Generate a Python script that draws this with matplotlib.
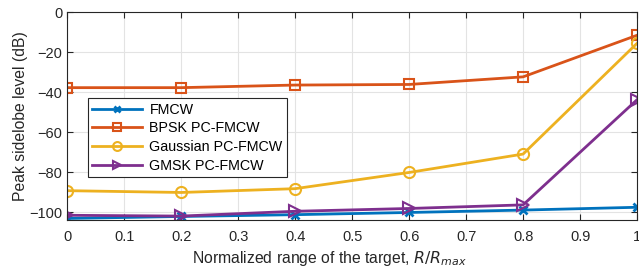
import numpy as np
import matplotlib.pyplot as plt

plt.rcParams['font.family'] = ['Liberation Sans', 'DejaVu Sans']

# normalized range R/Rmax
r = [0, 0.2, 0.4, 0.6, 0.8, 1.0]
# peak sidelobe levels in dB
fmcw = [-103.2, -102.2, -101.3, -100.2, -99.0, -97.6]
bpsk = [-37.8, -37.8, -36.5, -36.2, -32.4, -11.6]
gauss = [-89.3, -90.2, -88.3, -80.2, -71.0, -15.6]
gmsk = [-101.6, -102.0, -99.6, -98.2, -96.4, -43.8]

fig, ax = plt.subplots(figsize=(6.39, 2.8), dpi=100)
fig.subplots_adjust(left=0.105, right=0.997, top=0.957, bottom=0.214)

ax.plot(r, fmcw, color='#0072BD', marker='x', ms=6, mew=2, lw=2, label='FMCW')
ax.plot(r, bpsk, color='#D95319', marker='s', ms=7, mfc='none', mew=1.5, lw=2, label='BPSK PC-FMCW')
ax.plot(r, gauss, color='#EDB120', marker='o', ms=8, mfc='none', mew=1.5, lw=2, label='Gaussian PC-FMCW')
ax.plot(r, gmsk, color='#7E2F8E', marker='>', ms=8, mfc='none', mew=1.5, lw=2, label='GMSK PC-FMCW')

ax.set_xlim(0, 1)
ax.set_ylim(-104, 0)
ax.set_xticks(np.arange(0, 1.01, 0.1))
ax.set_xticklabels(['0', '0.1', '0.2', '0.3', '0.4', '0.5', '0.6', '0.7', '0.8', '0.9', '1'])
ax.set_yticks([-100, -80, -60, -40, -20, 0])
ax.tick_params(direction='in', labelsize=10.5, length=4, top=True, right=True, colors='#262626')
ax.tick_params(axis='x', pad=7)
ax.grid(True, color='#e3e3e3', lw=0.8)
ax.set_axisbelow(True)
for s in ax.spines.values():
    s.set_color('#262626')
    s.set_linewidth(0.8)

ax.set_xlabel('Normalized range of the target, $R/R_{max}$', fontsize=11.3, color='#262626')
ax.set_ylabel('Peak sidelobe level (dB)', fontsize=11.3, color='#262626', labelpad=1)
ax.xaxis.set_label_coords(0.46, -0.14)

leg = ax.legend(loc='upper left', bbox_to_anchor=(0.024, 0.62), fontsize=10.3, fancybox=False,
                edgecolor='#262626', framealpha=1, handlelength=3.5, borderpad=0.3,
                labelspacing=0.33, markerscale=0.8, handletextpad=0.5)
leg.get_frame().set_linewidth(0.8)

fig.savefig('out.png', dpi=100)
